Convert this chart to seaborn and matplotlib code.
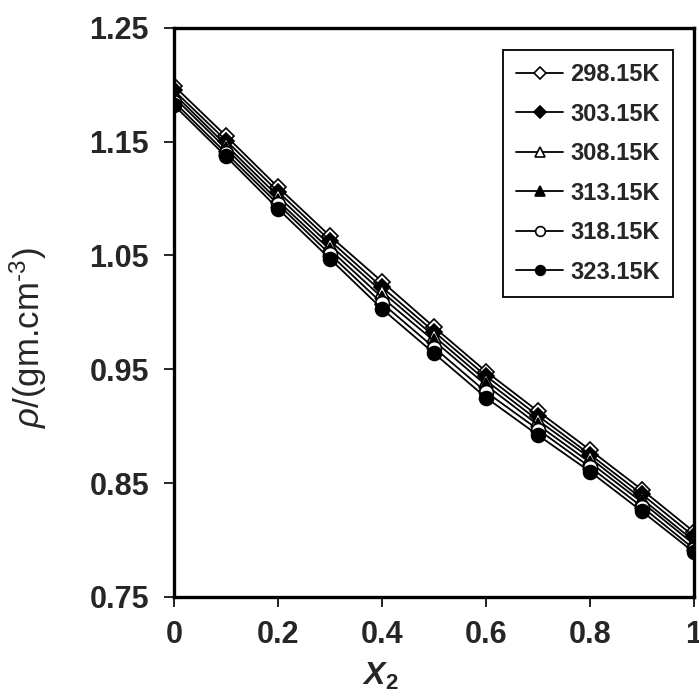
import numpy as np
import pandas as pd
import matplotlib
matplotlib.use("Agg")
import matplotlib.pyplot as plt
import seaborn as sns

# mole fraction and density (g/cm3)
x2 = [0.0, 0.1, 0.2, 0.3, 0.4, 0.5, 0.6, 0.7, 0.8, 0.9, 1.0]
temps = ["298.15K", "303.15K", "308.15K", "313.15K", "318.15K", "323.15K"]
rho_298 = [1.199, 1.155, 1.110, 1.067, 1.027, 0.987, 0.948, 0.913, 0.879, 0.844, 0.807]
rho_303 = [1.195, 1.151, 1.106, 1.063, 1.022, 0.983, 0.944, 0.909, 0.875, 0.840, 0.803]
rho_308 = [1.192, 1.147, 1.102, 1.059, 1.018, 0.979, 0.940, 0.905, 0.872, 0.836, 0.799]
rho_313 = [1.189, 1.144, 1.098, 1.055, 1.013, 0.975, 0.936, 0.901, 0.868, 0.833, 0.796]
rho_318 = [1.185, 1.140, 1.095, 1.051, 1.008, 0.969, 0.930, 0.897, 0.864, 0.829, 0.792]
rho_323 = [1.182, 1.137, 1.091, 1.047, 1.003, 0.964, 0.925, 0.892, 0.860, 0.825, 0.789]
y_ticks = [0.75, 0.85, 0.95, 1.05, 1.15, 1.25]
x_ticks = [0, 0.2, 0.4, 0.6, 0.8, 1]

sns.set_theme(style="ticks")
plt.rcParams['font.family'] = ['Liberation Sans', 'DejaVu Sans']
plt.rcParams['mathtext.fontset'] = 'custom'
plt.rcParams['mathtext.rm'] = 'Liberation Sans'
plt.rcParams['mathtext.it'] = 'Liberation Sans:italic'
plt.rcParams['mathtext.bf'] = 'Liberation Sans:bold'
plt.rcParams['mathtext.sf'] = 'Liberation Sans:bold:italic'

series = [rho_298, rho_303, rho_308, rho_313, rho_318, rho_323]
# marker shape and fill for each temperature
styles = [("D", "white", 8.5), ("D", "black", 8.5), ("^", "white", 10),
          ("^", "black", 10), ("o", "white", 10), ("o", "black", 10)]

fig = plt.figure(figsize=(6.99, 6.98), dpi=100)
ax = fig.add_axes([0.249, 0.145, 0.744, 0.815])

for temp, vals, (mk, fc, ms) in zip(temps, series, styles):
    df = pd.DataFrame({"x": x2, "rho": vals})
    sns.lineplot(data=df, x="x", y="rho", ax=ax, color="black", linewidth=1.3,
                 marker=mk, markerfacecolor=fc, markeredgecolor="black",
                 markeredgewidth=1.2, markersize=ms, label=temp)

ax.set_xlim(0, 1)
ax.set_ylim(0.75, 1.25)
ax.set_xticks(x_ticks)
ax.set_xticklabels(["0", "0.2", "0.4", "0.6", "0.8", "1"])
ax.set_yticks(y_ticks)
ax.set_yticklabels([f"{v:.2f}" for v in y_ticks])
for lab in ax.get_xticklabels() + ax.get_yticklabels():
    lab.set_fontweight("bold")
    lab.set_fontsize(22)
ax.tick_params(axis="y", length=7, width=1.2, pad=11, color="black")
ax.tick_params(axis="x", length=7, width=1.2, pad=10, color="black")
for sp in ax.spines.values():
    sp.set_visible(True)
    sp.set_linewidth(2.4)
    sp.set_color("black")

ax.set_xlabel(r"$\mathsf{X}_{\mathbf{2}}$", fontsize=23)
ax.xaxis.set_label_coords(0.396, -0.112)
ax.set_ylabel(r"$\rho$/(gm.cm$^{\text{-3}}$)", fontsize=25)
ax.yaxis.set_label_coords(-0.24, 0.455)

leg = ax.legend(loc="upper right", bbox_to_anchor=(0.960, 0.961), fancybox=False,
                frameon=True, edgecolor="black", framealpha=1,
                prop={"size": 17, "weight": "bold"}, handlelength=2.0,
                handletextpad=0.3, labelspacing=0.7, borderpad=0.55,
                borderaxespad=0, markerscale=0.7)
leg.get_frame().set_linewidth(1.3)

fig.savefig("out.png", dpi=100)
